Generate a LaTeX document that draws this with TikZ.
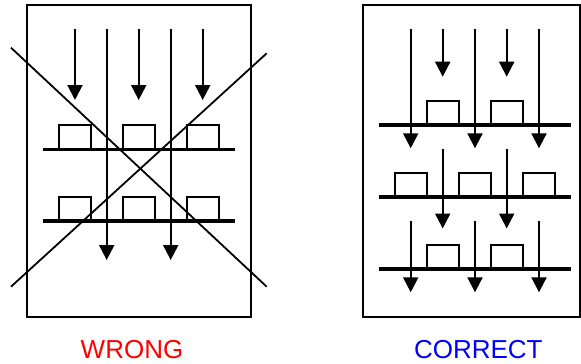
\documentclass[tikz,border=0pt]{standalone}
\usepackage{fontspec}
\setmainfont{Liberation Sans}
\usetikzlibrary{arrows.meta}
\tikzset{
  rkframe/.style={draw=black, line width=1.8pt},
  rkflow/.style={-{Triangle[length=15pt,width=15pt]}, line width=2pt},
  rkshelf/.style={line width=3.6pt},
  rkcard/.style={draw=black, line width=2pt},
  rkcross/.style={line width=1.8pt},
  rkcaption/.style={font=\fontsize{26}{30}\selectfont, anchor=base, inner sep=0pt}
}
\begin{document}
\begin{tikzpicture}[x=1pt,y=-1pt]
  \useasboundingbox (0,0) rectangle (581,364);

  % Wrong layout
  \draw[rkframe] (26.7,5) rectangle (250.7,316.7);
  \foreach \y in {149.3,221} {
    \draw[rkshelf] (43.3,\y) -- (235,\y);
    \foreach \x in {58.7,122.7,186.7}
      \draw[rkcard] (\x,\y) -- ++(0,-24) -- ++(32,0) -- ++(0,24);
  }
  \foreach \x in {75,138.7,202.7}
    \draw[rkflow] (\x,29.3) -- (\x,100);
  \foreach \x in {106.7,170.7}
    \draw[rkflow] (\x,29.3) -- (\x,260);
  \draw[rkcross] (11,47.7) -- (266.7,286.7);
  \draw[rkcross] (11,286.7) -- (266.7,53.3);
  \node[rkcaption, text=red] (wrong) at (132,358) {WRONG};

  % Correct layout
  \draw[rkframe] (362.7,5) rectangle (580,316.7);
  \foreach \y in {125,268.7} {
    \draw[rkshelf] (379.3,\y) -- (570.7,\y);
    \foreach \x in {427.3,491.3}
      \draw[rkcard] (\x,\y) -- ++(0,-24) -- ++(32,0) -- ++(0,24);
  }
  \draw[rkshelf] (379.3,196.7) -- (570.7,196.7);
  \foreach \x in {395,459,522.7}
    \draw[rkcard] (\x,196.7) -- ++(0,-24) -- ++(32,0) -- ++(0,24);
  \foreach \x in {410.7,475,539} {
    \draw[rkflow] (\x,29.3) -- (\x,148.3);
    \draw[rkflow] (\x,221) -- (\x,292.3);
  }
  \foreach \x in {442.7,506.7} {
    \draw[rkflow] (\x,29.3) -- (\x,76.7);
    \draw[rkflow] (\x,149) -- (\x,228.5);
  }
  \node[rkcaption, text=blue] (correct) at (478.3,358) {CORRECT};
\end{tikzpicture}
\end{document}
